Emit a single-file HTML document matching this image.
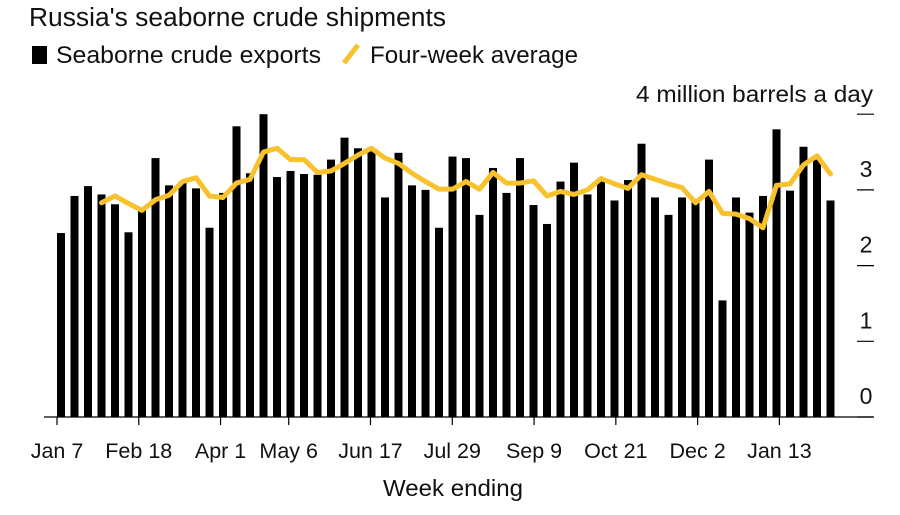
<!DOCTYPE html>
<html><head><meta charset="utf-8"><style>
html,body{margin:0;padding:0;background:#fff;}
body{width:900px;height:510px;overflow:hidden;font-family:"Liberation Sans",sans-serif;}
text{font-family:"Liberation Sans",sans-serif;fill:#111;}
</style></head><body>
<svg id="chart" width="900" height="510" viewBox="0 0 900 510">
<text x="29" y="26" font-size="25.5" textLength="417" lengthAdjust="spacingAndGlyphs">Russia's seaborne crude shipments</text>
<g>
<rect x="32" y="46" width="15" height="18" fill="#000"/>
<text x="56" y="63" font-size="24" textLength="265" lengthAdjust="spacingAndGlyphs">Seaborne crude exports</text>
<line x1="344" y1="63" x2="358" y2="45" stroke="#f7c22e" stroke-width="5"/>
<text x="370" y="63" font-size="24" textLength="208" lengthAdjust="spacingAndGlyphs">Four-week average</text>
</g>
<text x="873" y="102" font-size="23.5" text-anchor="end" textLength="237" lengthAdjust="spacingAndGlyphs">4 million barrels a day</text>
<g id="plot"></g>
<text x="453" y="496" font-size="23" text-anchor="middle" textLength="140" lengthAdjust="spacingAndGlyphs">Week ending</text>
</svg>
<script>
const exportsVals=[2.43,2.92,3.05,2.94,2.81,2.44,2.73,3.42,3.06,3.11,3.02,2.5,2.96,3.84,3.22,4.0,3.17,3.25,3.21,3.2,3.4,3.69,3.55,3.52,2.9,3.49,3.06,3.0,2.5,3.44,3.42,2.67,3.29,2.96,3.42,2.8,2.55,3.11,3.36,2.94,3.13,2.86,3.13,3.61,2.9,2.67,2.9,2.88,3.4,1.54,2.9,2.7,2.92,3.8,2.99,3.57,3.4,2.86];
const avgVals=[null,null,null,2.83,2.92,2.82,2.73,2.87,2.93,3.11,3.16,2.92,2.9,3.09,3.14,3.5,3.55,3.4,3.4,3.23,3.25,3.35,3.46,3.55,3.42,3.35,3.22,3.11,3.01,3.01,3.11,3.01,3.23,3.09,3.09,3.12,2.92,2.98,2.94,3.0,3.15,3.08,3.02,3.2,3.14,3.08,3.03,2.83,2.98,2.69,2.68,2.62,2.5,3.06,3.08,3.33,3.45,3.21];
const xTickLabels=["Jan 7","Feb 18","Apr 1","May 6","Jun 17","Jul 29","Sep 9","Oct 21","Dec 2","Jan 13"];
const xTickIndex=[0,6,12,17,23,29,35,41,47,53];
const yTicks=[0,1,2,3,4];
const NS="http://www.w3.org/2000/svg";
const g=document.getElementById('plot');
const y0=417,pxPerUnit=75.7;
function yScale(v){return y0-v*pxPerUnit;}
function xScale(i){return 61+i*13.5;}
function mk(t,a){const e=document.createElementNS(NS,t);for(const k in a)e.setAttribute(k,a[k]);g.appendChild(e);return e;}
exportsVals.forEach((v,i)=>{
 const r=mk('rect',{x:xScale(i)-4,y:yScale(v),width:8,height:y0-yScale(v),fill:'#000'});
 
 
});
const pts=[];avgVals.forEach((v,i)=>{if(v!==null)pts.push(xScale(i)+','+yScale(v));});
const pl=mk('polyline',{points:pts.join(' '),fill:'none',stroke:'#f7c22e','stroke-width':5,'stroke-linejoin':'round','stroke-linecap':'round'});


const base=mk('line',{x1:44,y1:y0,x2:873,y2:y0,stroke:'#000','stroke-width':1.2});


yTicks.forEach(v=>{
 const t=mk('line',{x1:857,y1:yScale(v),x2:874,y2:yScale(v),stroke:'#000','stroke-width':1.2});
 
 
 if(v<4){const l=mk('text',{x:866,y:yScale(v)-13,'font-size':23,'text-anchor':'middle'});l.textContent=v;
 
 }
});
xTickIndex.forEach((idx,k)=>{
 const x=xScale(idx)-4+idx*0.13;
 const t=mk('line',{x1:x,y1:y0,x2:x,y2:y0+8,stroke:'#000','stroke-width':1.2});
 
 
 const l=mk('text',{x:x,y:458,'font-size':21.5,'text-anchor':'middle'});l.textContent=xTickLabels[k];
 
 
});
</script>
</body></html>
